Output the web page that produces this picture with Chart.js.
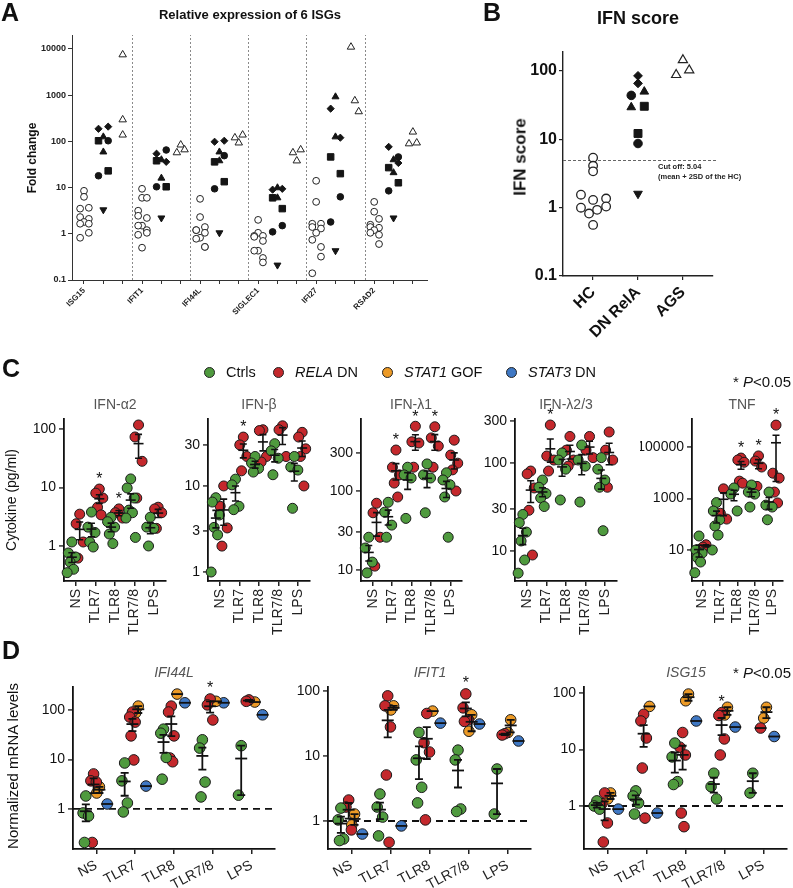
<!DOCTYPE html>
<html><head><meta charset="utf-8">
<script src="https://cdn.jsdelivr.net/npm/chart.js@4.4.1/dist/chart.umd.min.js"></script>
<style>
html,body{margin:0;padding:0;background:#fff;}
#stage{position:relative;width:793px;height:888px;overflow:hidden;font-family:"Liberation Sans",Arial,Helvetica,sans-serif;color:#111;}
#stage canvas{position:absolute;left:0;top:0;}
.t{position:absolute;white-space:nowrap;line-height:1;}
</style></head><body><div id="stage"></div>
<script>
// ===================== DATA =====================
// Panel A: relative expression of 6 ISGs (fold change)
const genesA = ['ISG15','IFIT1','IFI44L','SIGLEC1','IFI27','RSAD2'];
const hcA = [
 [8.5,6.3,3.65,3.5,2.3,2.1,1.8,1.65,1.65,1.05,0.82],
 [9.4,6.0,6.0,3.15,2.45,2.2,1.5,1.5,1.2,1.05,0.95,0.5],
 [5.7,2.3,1.4,1.2,1.2,1.05,0.82,0.78,0.52,0.52],
 [2.0,1.05,0.9,0.9,0.86,0.7,0.43,0.43,0.3,0.24],
 [14,4.9,1.65,1.65,1.4,1.3,1.05,0.74,0.52,0.32,0.14],
 [4.9,3.0,2.1,1.57,1.4,1.35,1.2,1.05,0.95,0.6]
];
// DN RelA patients in order: diamond, diamond, triangle, triangle, square, square, circle, circle, inverted triangle
const dnA = [
 [187,208,125,59,103,23,103,18,3.3],
 [54,36,40,16,38,10.4,65,10.4,2.2],
 [98,103,59,38,36,13.4,49,9.4,1.05],
 [9,9.4,9.9,6,6,3.5,1.5,1.1,0.21],
 [510,120,920,125,46,20,6.3,1.8,0.43],
 [76,34,40,21,27,12.7,46,8.5,2.2]
];
const agsA = [[7500,294,138],[57,84,66],[120,93,138],[57,38,66],[11000,760,440],[89,160,93]];
const ticksA = [0.1,1,10,100,1000,10000];

// Panel B: IFN score
const catsB = ['HC','DN RelA','AGS'];
const hcB = [5.4,4.1,3.4,1.55,1.3,1.36,1.0,0.82,0.93,1.04,0.56];
const dnB = [85,66,50,29.5,30.5,12.2,44,8.7,1.6];
const agsB = [145,88,103];
const cutoffB = 5.04;
const ticksB = [0.1,1,10,100];

// Panel C: cytokines (pg/ml)
const stimC = ['NS','TLR7','TLR8','TLR7/8','LPS'];
const ifna2Ctrls = [[1.17,0.76,0.65,0.53,0.4,0.35],[3.8,2.1,1.7,1.17,0.96],[3.1,2.6,2.1,1.6,1.1],[14,9.8,6.6,4.1,3.7,3.0,1.4],[3.1,2.1,2.0,1.0]];
const ifna2Rela  = [[3.5,2.4,1.17,0.62],[9.4,8,6.6,4.6,3.4],[4.3,3.7,3.0],[117,73,28,6.6],[4.6,4.3,3.7,2.0]];
const ifnbCtrls = [[7.3,6.5,4.6,3.3,2.7,1.0],[12,10.3,5.8,5.3],[22,18.5,16,14.5],[31,25.6,21,13.5],[22,16.6,15.3,5.5]];
const ifnbRela  = [[10,5.8,3.25,2.0],[37,30,22,15],[45,44,22,19],[50,45,22],[42,37,27,22,10]];
const ifnl1Ctrls = [[26,19,12.6,9.2],[72,54,37,26],[200,160,146,45],[220,160,146,53],[170,138,120,84,26]];
const ifnl1Rela  = [[70,53,26,11.2],[330,200,160,126,84],[660,420,405,200],[650,470,370,200],[440,285,225,185,100]];
const ifnl23Ctrls = [[26,21,16.4,13,7.9,5.6],[64,53,45,40,32],[130,108,85,38],[160,108,92,36],[115,85,64,53,17]];
const ifnl23Rela  = [[81,75,52,29,9],[270,120,108,81],[200,140,108,92],[200,140,115],[225,140,108,53]];
const tnfCtrls = [[35,10,7.6,5,3.4,1.3],[700,330,150,86,38,10],[2600,1500,330],[3400,1800,1500,470],[1800,560,470,150]];
const tnfRela  = [[16,13],[2400,270,160],[38000,32000,26000,4800,4000],[46000,29000,17000,3000],[730000,9800,6300,1800,680]];

// Panel D: normalized mRNA levels
const ifi44lCtrls = [[1.83,0.83,0.72,0.21],[8.5,3.7,1.32,0.87],[41,34,11,4.0],[25,17,3.5,1.75],[19,1.9]];
const ifi44lRela  = [[5.1,3.7,3.5,0.21],[91,72,57,30,9.8],[120,91,30,10.7,9],[167,127,63],[160,150]];
const ifi44lStat1 = [[2.8,2.1],[120,87],[210],[150],[145]];
const ifi44lStat3 = [[1.26],[2.9],[140],[140],[80]];
const ifit1Ctrls = [[1.58,1.04,0.53,0.5],[2.6,1.64,1.15,0.59],[23,8.7,3.3,1.9],[12.3,8.7,1.53,1.4],[6.3,1.28]];
const ifit1Rela  = [[2.1,1.64,0.73],[84,59,28,5.1,0.47],[45,16,11.5,1.04],[90,55,36,34],[22,21]];
const ifit1Stat1 = [[1.28,0.87],[59,51],[49],[43,24],[36,23]];
const ifit1Stat3 = [[0.63],[0.84],[32],[31],[17]];
const isg15Ctrls = [[1.23,1.0,0.88],[1.85,1.5,1.13,0.72],[13,7.4,2.7,2.4],[3.8,2.2,1.33],[3.8,1.7]];
const isg15Rela  = [[1.7,1.1,0.5,0.23],[42,32,16,4.7,0.61],[20,11,8,0.75,0.43],[45,40,15.4,8],[24]];
const isg15Stat1 = [[1.7,1.33],[58],[96,73],[56,41],[56,36]];
const isg15Stat3 = [[0.88],[0.75],[32],[25],[17]];

// ===================== HELPERS =====================
const W=793,H=888;
const FONT='"Liberation Sans", Arial, Helvetica, sans-serif';
const stage=document.getElementById('stage');
Chart.defaults.font.family=FONT;
function mk(){const c=document.createElement('canvas');c.width=W;c.height=H;stage.appendChild(c);return c;}
function T(s,x,y,css,ax,ay,rot){
  const d=document.createElement('div');d.className='t';d.innerHTML=s;d.style.cssText+=css;
  d.style.left=x+'px';d.style.top=y+'px';
  d.style.transform='translate('+(-(ax??0.5)*100)+'%,'+(-(ay??0.5)*100)+'%) rotate('+(rot||0)+'deg)';
  stage.appendChild(d);
}
function logAxis(o){return {type:'logarithmic',position:'left',min:o.min,max:o.max,bounds:'data',
  afterBuildTicks:s=>{s.ticks=o.ticks.map(v=>({value:v}));},
  afterFit:s=>{s.width=o.w;},
  ticks:{font:o.font,color:o.color,padding:o.pad,autoSkip:false,callback:v=>String(v)},
  grid:{drawOnChartArea:false,drawTicks:true,tickLength:o.tl,color:o.tc,lineWidth:o.tw},
  border:{display:true,color:o.bc,width:o.bw}};}
function linAxis(o){return {type:'linear',position:'bottom',min:o.min,max:o.max,bounds:'data',
  afterBuildTicks:s=>{s.ticks=o.ticks.map(v=>({value:v}));},
  afterFit:s=>{s.height=o.h;},
  ticks:{font:o.font,color:o.color,padding:o.pad,autoSkip:false,minRotation:o.rot,maxRotation:o.rot,callback:v=>o.label(v)},
  grid:{drawOnChartArea:false,drawTicks:true,tickLength:o.tl,color:o.tc,lineWidth:o.tw},
  border:{display:true,color:o.bc,width:o.bw}};}
function pad(L,T_,R,B,yW,xH){return {left:L-yW,top:T_,right:W-R,bottom:H-B-xH};}
function stats(vals){const n=vals.length;const m=vals.reduce((a,b)=>a+b,0)/n;
  if(n<2)return {m,s:0};const sd=Math.sqrt(vals.reduce((a,b)=>a+(b-m)*(b-m),0)/(n-1));return {m,s:sd/Math.sqrt(n)};}

// ===================== PANEL A =====================
(function(){
  const c=mk();
  const jHC=[0,0,0.25,-0.2,-0.2,0.25,0,-0.2,0.25,0.25,-0.2,0];
  const jDN=[-0.25,0.25,0,0,-0.25,0.25,0.25,-0.25,0];
  const jAG=[-0.2,0,0.2];
  const shapes=[['rectRot',3.6,0],['rectRot',3.6,0],['triangle',4,0],['triangle',4,0],['rect',4.6,0],['rect',4.6,0],['circle',3.3,0],['circle',3.3,0],['triangle',4,180]];
  const ds=[];
  const hcPts=[];hcA.forEach((vals,g)=>vals.forEach((v,i)=>hcPts.push({x:g*3+jHC[i%jHC.length],y:v})));
  ds.push({data:hcPts,pointStyle:'circle',pointRadius:3.4,pointBackgroundColor:'#fff',pointBorderColor:'#222',pointBorderWidth:1});
  shapes.forEach((sh,p)=>{
    const pts=dnA.map((vals,g)=>({x:g*3+1+jDN[p],y:vals[p]}));
    ds.push({data:pts,pointStyle:sh[0],pointRadius:sh[1],pointRotation:sh[2],pointBackgroundColor:'#151515',pointBorderColor:'#151515',pointBorderWidth:1});
  });
  const agPts=[];agsA.forEach((vals,g)=>vals.forEach((v,i)=>agPts.push({x:g*3+2+(g===0?0:jAG[i]),y:v})));
  ds.push({data:agPts,pointStyle:'triangle',pointRadius:4.3,pointBackgroundColor:'#fff',pointBorderColor:'#222',pointBorderWidth:1});
  const sep={id:'sepA',beforeDatasetsDraw(ch){const x=ch.scales.x,a=ch.chartArea,ctx=ch.ctx;ctx.save();ctx.strokeStyle='#8a8a8a';ctx.lineWidth=1;ctx.setLineDash([2,2]);
    for(let g=0;g<5;g++){const px=Math.round(x.getPixelForValue(g*3+2.5))+0.5;ctx.beginPath();ctx.moveTo(px,a.bottom);ctx.lineTo(px,a.top);ctx.stroke();}ctx.restore();}};
  new Chart(c,{type:'scatter',data:{datasets:ds},plugins:[sep],options:{responsive:false,animation:false,
    layout:{padding:pad(72,35,427,280,40,40)},
    plugins:{legend:{display:false},tooltip:{enabled:false}},
    scales:{
      x:linAxis({min:-0.62,max:17.73,ticks:[...Array(18).keys()],h:40,rot:45,pad:2,tl:4,tc:'#333',tw:1,bc:'#333',bw:1,color:'#222',font:{family:FONT,size:8,weight:'bold'},label:v=>(v%3===0?genesA[v/3]:'')}),
      y:logAxis({min:0.1,max:20000,ticks:ticksA,w:40,pad:2,tl:4,tc:'#333',tw:1,bc:'#333',bw:1,color:'#222',font:{family:FONT,size:9,weight:'bold'}})
    }}});
})();

// ===================== PANEL B =====================
(function(){
  const c=mk();
  const jHC=[0,0,0,-0.27,0,0.29,-0.27,-0.09,0.09,0.29,0];
  const jDN=[0,0,0.14,-0.15,0.14,0,-0.15,0,0];
  const jAG=[0,-0.15,0.14];
  const shapes=[['rectRot',4.4,0],['rectRot',4.4,0],['triangle',5,0],['triangle',5,0],['rect',5.6,0],['rect',5.6,0],['circle',4.3,0],['circle',4.3,0],['triangle',5,180]];
  const ds=[];
  ds.push({data:hcB.map((v,i)=>({x:0+jHC[i],y:v})),pointStyle:'circle',pointRadius:4.3,pointBackgroundColor:'#fff',pointBorderColor:'#222',pointBorderWidth:1.3});
  shapes.forEach((sh,p)=>ds.push({data:[{x:1+jDN[p],y:dnB[p]}],pointStyle:sh[0],pointRadius:sh[1],pointRotation:sh[2],pointBackgroundColor:'#151515',pointBorderColor:'#151515',pointBorderWidth:1}));
  ds.push({data:agsB.map((v,i)=>({x:2+jAG[i],y:v})),pointStyle:'triangle',pointRadius:5.3,pointBackgroundColor:'#fff',pointBorderColor:'#222',pointBorderWidth:1.2});
  const cut={id:'cutB',beforeDatasetsDraw(ch){const y=ch.scales.y,a=ch.chartArea,ctx=ch.ctx;const py=Math.round(y.getPixelForValue(cutoffB))+0.5;
    ctx.save();ctx.strokeStyle='#666';ctx.lineWidth=1;ctx.setLineDash([3,2]);ctx.beginPath();ctx.moveTo(a.left,py);ctx.lineTo(a.right+3,py);ctx.stroke();ctx.restore();}};
  new Chart(c,{type:'scatter',data:{datasets:ds},plugins:[cut],options:{responsive:false,animation:false,
    layout:{padding:pad(563,52,713,276,50,70)},
    plugins:{legend:{display:false},tooltip:{enabled:false}},
    scales:{
      x:linAxis({min:-0.67,max:2.67,ticks:[0,1,2],h:70,rot:45,pad:3,tl:4,tc:'#222',tw:1.2,bc:'#222',bw:1.4,color:'#111',font:{family:FONT,size:16,weight:'bold'},label:v=>catsB[v]}),
      y:logAxis({min:0.1,max:190,ticks:ticksB,w:50,pad:2,tl:4,tc:'#222',tw:1.2,bc:'#222',bw:1.4,color:'#111',font:{family:FONT,size:16,weight:'bold'}})
    }}});
})();

// ===================== PANELS C & D =====================
function groupChart(o){
  const c=mk();
  const ds=[];
  o.groups.forEach(g=>{
    const pts=[];
    g.data.forEach((vals,ci)=>vals.forEach((v,i)=>pts.push({x:ci+g.off+o.jit[i%o.jit.length],y:v})));
    ds.push({data:pts,pointStyle:'circle',pointRadius:o.r,pointBackgroundColor:g.color,pointBorderColor:'#1a1a1a',pointBorderWidth:1,clip:false});
  });
  const plug={id:'extras',
    beforeDatasetsDraw(ch){ if(!o.ref)return; const y=ch.scales.y,a=ch.chartArea,ctx=ch.ctx;const py=y.getPixelForValue(o.ref);
      ctx.save();ctx.strokeStyle='#111';ctx.lineWidth=1.8;ctx.setLineDash([7,5]);ctx.beginPath();ctx.moveTo(a.left,py);ctx.lineTo(a.right,py);ctx.stroke();ctx.restore();},
    afterDatasetsDraw(ch){const x=ch.scales.x,y=ch.scales.y,ctx=ch.ctx;ctx.save();ctx.strokeStyle='#111';ctx.lineWidth=o.lw;
      o.groups.forEach(g=>g.data.forEach((vals,ci)=>{ if(!vals.length)return; const st=stats(vals);const px=x.getPixelForValue(ci+g.off);
        const pm=y.getPixelForValue(st.m);
        ctx.beginPath();ctx.moveTo(px-o.mw,pm);ctx.lineTo(px+o.mw,pm);ctx.stroke();
        if(st.s>0){const lo=Math.max(st.m-st.s,o.yMin),hi=Math.min(st.m+st.s,o.yMax);const pl=y.getPixelForValue(lo),ph=y.getPixelForValue(hi);
          ctx.beginPath();ctx.moveTo(px,pl);ctx.lineTo(px,ph);ctx.moveTo(px-o.cw,pl);ctx.lineTo(px+o.cw,pl);ctx.moveTo(px-o.cw,ph);ctx.lineTo(px+o.cw,ph);ctx.stroke();}
      }));
      ctx.fillStyle='#111';ctx.font='16px '+FONT;ctx.textAlign='center';ctx.textBaseline='middle';
      (o.stars||[]).forEach(ci=>{const g=o.groups[o.starGroup];const mx=Math.max(...g.data[ci]);ctx.fillText('*',x.getPixelForValue(ci+g.off),y.getPixelForValue(mx)-o.sdy);});
      ctx.restore();}};
  new Chart(c,{type:'scatter',data:{datasets:ds},plugins:[plug],options:{responsive:false,animation:false,
    layout:{padding:pad(o.L,o.T,o.R,o.B,52,o.xH)},
    plugins:{legend:{display:false},tooltip:{enabled:false}},
    scales:{
      x:linAxis({min:-0.6,max:4.6,ticks:[0,1,2,3,4],h:o.xH,rot:o.rot,pad:3,tl:5,tc:'#222',tw:1.5,bc:'#111',bw:1.8,color:'#222',font:{family:FONT,size:14},label:v=>stimC[v]}),
      y:logAxis({min:o.yMin,max:o.yMax,ticks:o.ticks,w:52,pad:3,tl:5,tc:'#555',tw:1.8,bc:'#111',bw:1.8,color:'#111',font:{family:FONT,size:14}})
    }}});
}
const GREEN='#4f9a3e',RED='#c4282c',ORANGE='#ec9a26',BLUE='#3f78c4';
const jC=[0,-0.18,0.18,-0.09,0.09,-0.24,0.24,0];
const cBase={T:419,B:581,xH:75,rot:90,r:5,jit:jC,lw:1.6,mw:5,cw:3.5,sdy:9,starGroup:1};
function cGroups(ctrl,rela){return [{data:ctrl,color:GREEN,off:-0.2},{data:rela,color:RED,off:0.2}];}
groupChart(Object.assign({},cBase,{L:64,R:166,yMin:0.252,yMax:148,ticks:[1,10,100],groups:cGroups(ifna2Ctrls,ifna2Rela),stars:[1,2]}));
groupChart(Object.assign({},cBase,{L:208,R:310,yMin:0.786,yMax:60,ticks:[1,3,10,30],groups:cGroups(ifnbCtrls,ifnbRela),stars:[1]}));
groupChart(Object.assign({},cBase,{L:361,R:462,yMin:7.26,yMax:815,ticks:[10,30,100,300],groups:cGroups(ifnl1Ctrls,ifnl1Rela),stars:[1,2,3]}));
groupChart(Object.assign({},cBase,{L:515,R:617,yMin:4.56,yMax:316,ticks:[10,30,100,300],groups:cGroups(ifnl23Ctrls,ifnl23Rela),stars:[1]}));
groupChart(Object.assign({},cBase,{L:692,R:792,yMin:0.62,yMax:1.26e6,ticks:[10,1000,100000],groups:cGroups(tnfCtrls,tnfRela),stars:[2,3,4]}));

const jD=[0,-0.07,0.07,-0.035,0.035,-0.1,0.1];
const dBase={T:687,B:849,xH:50,rot:28,r:5.3,jit:jD,lw:1.8,mw:6,cw:4,sdy:10,starGroup:1,ref:1};
function dGroups(a,b,c,d){return [{data:a,color:GREEN,off:-0.27},{data:b,color:RED,off:-0.07},{data:c,color:ORANGE,off:0.08},{data:d,color:BLUE,off:0.28}];}
groupChart(Object.assign({},dBase,{L:73,R:275,yMin:0.155,yMax:292,ticks:[1,10,100],groups:dGroups(ifi44lCtrls,ifi44lRela,ifi44lStat1,ifi44lStat3),stars:[3]}));
groupChart(Object.assign({},dBase,{L:328,R:531,yMin:0.371,yMax:115,ticks:[1,10,100],groups:dGroups(ifit1Ctrls,ifit1Rela,ifit1Stat1,ifit1Stat3),stars:[3]}));
groupChart(Object.assign({},dBase,{L:584,R:787,yMin:0.173,yMax:128,ticks:[1,10,100],groups:dGroups(isg15Ctrls,isg15Rela,isg15Stat1,isg15Stat3),stars:[3]}));

// ===================== TEXT =====================
const B='font-weight:bold;';
T('A',10,12,B+'font-size:25px;');
T('Relative expression of 6 ISGs',250,14,B+'font-size:13px;');
T('Fold change',32,158,B+'font-size:12px;',0.5,0.5,-90);
T('B',492,12,B+'font-size:25px;');
T('IFN score',638,18,B+'font-size:18px;');
T('IFN score',520,157,B+'font-size:17px;',0.5,0.5,-90);
T('Cut off: 5.04',658,167,B+'font-size:7.5px;color:#222;',0,0.5);
T('(mean + 2SD of the HC)',658,177,B+'font-size:7.5px;color:#222;',0,0.5);

T('C',11,368,B+'font-size:25px;');
const leg=[[209,GREEN,'Ctrls'],[278,RED,'<i>RELA</i> DN'],[387,ORANGE,'<i>STAT1</i> GOF'],[511,BLUE,'<i>STAT3</i> DN']];
leg.forEach(l=>{const d=document.createElement('div');d.style.cssText='position:absolute;width:11px;height:11px;border-radius:50%;border:1px solid #222;box-sizing:border-box;background:'+l[1]+';left:'+(l[0]-5.5)+'px;top:'+(372-5.5)+'px;';stage.appendChild(d);
  T(l[2],l[0]+17,372,'font-size:14.5px;',0,0.5);});
T('* <i>P</i>&lt;0.05',762,381,'font-size:15px;');
[['IFN-α2',115],['IFN-β',259],['IFN-λ1',411],['IFN-λ2/3',566],['TNF',742]].forEach(t=>T(t[0],t[1],404,'font-size:14px;color:#555;'));
T('Cytokine (pg/ml)',11,500,'font-size:14px;',0.5,0.5,-90);

T('D',11,650,B+'font-size:25px;');
[['IFI44L',174],['IFIT1',430],['ISG15',686]].forEach(t=>T(t[0],t[1],672,'font-size:14px;color:#555;font-style:italic;'));
T('* <i>P</i>&lt;0.05',762,672,'font-size:15px;');
T('Normalized mRNA levels',12,766,'font-size:15px;',0.5,0.5,-90);
</script></body></html>
